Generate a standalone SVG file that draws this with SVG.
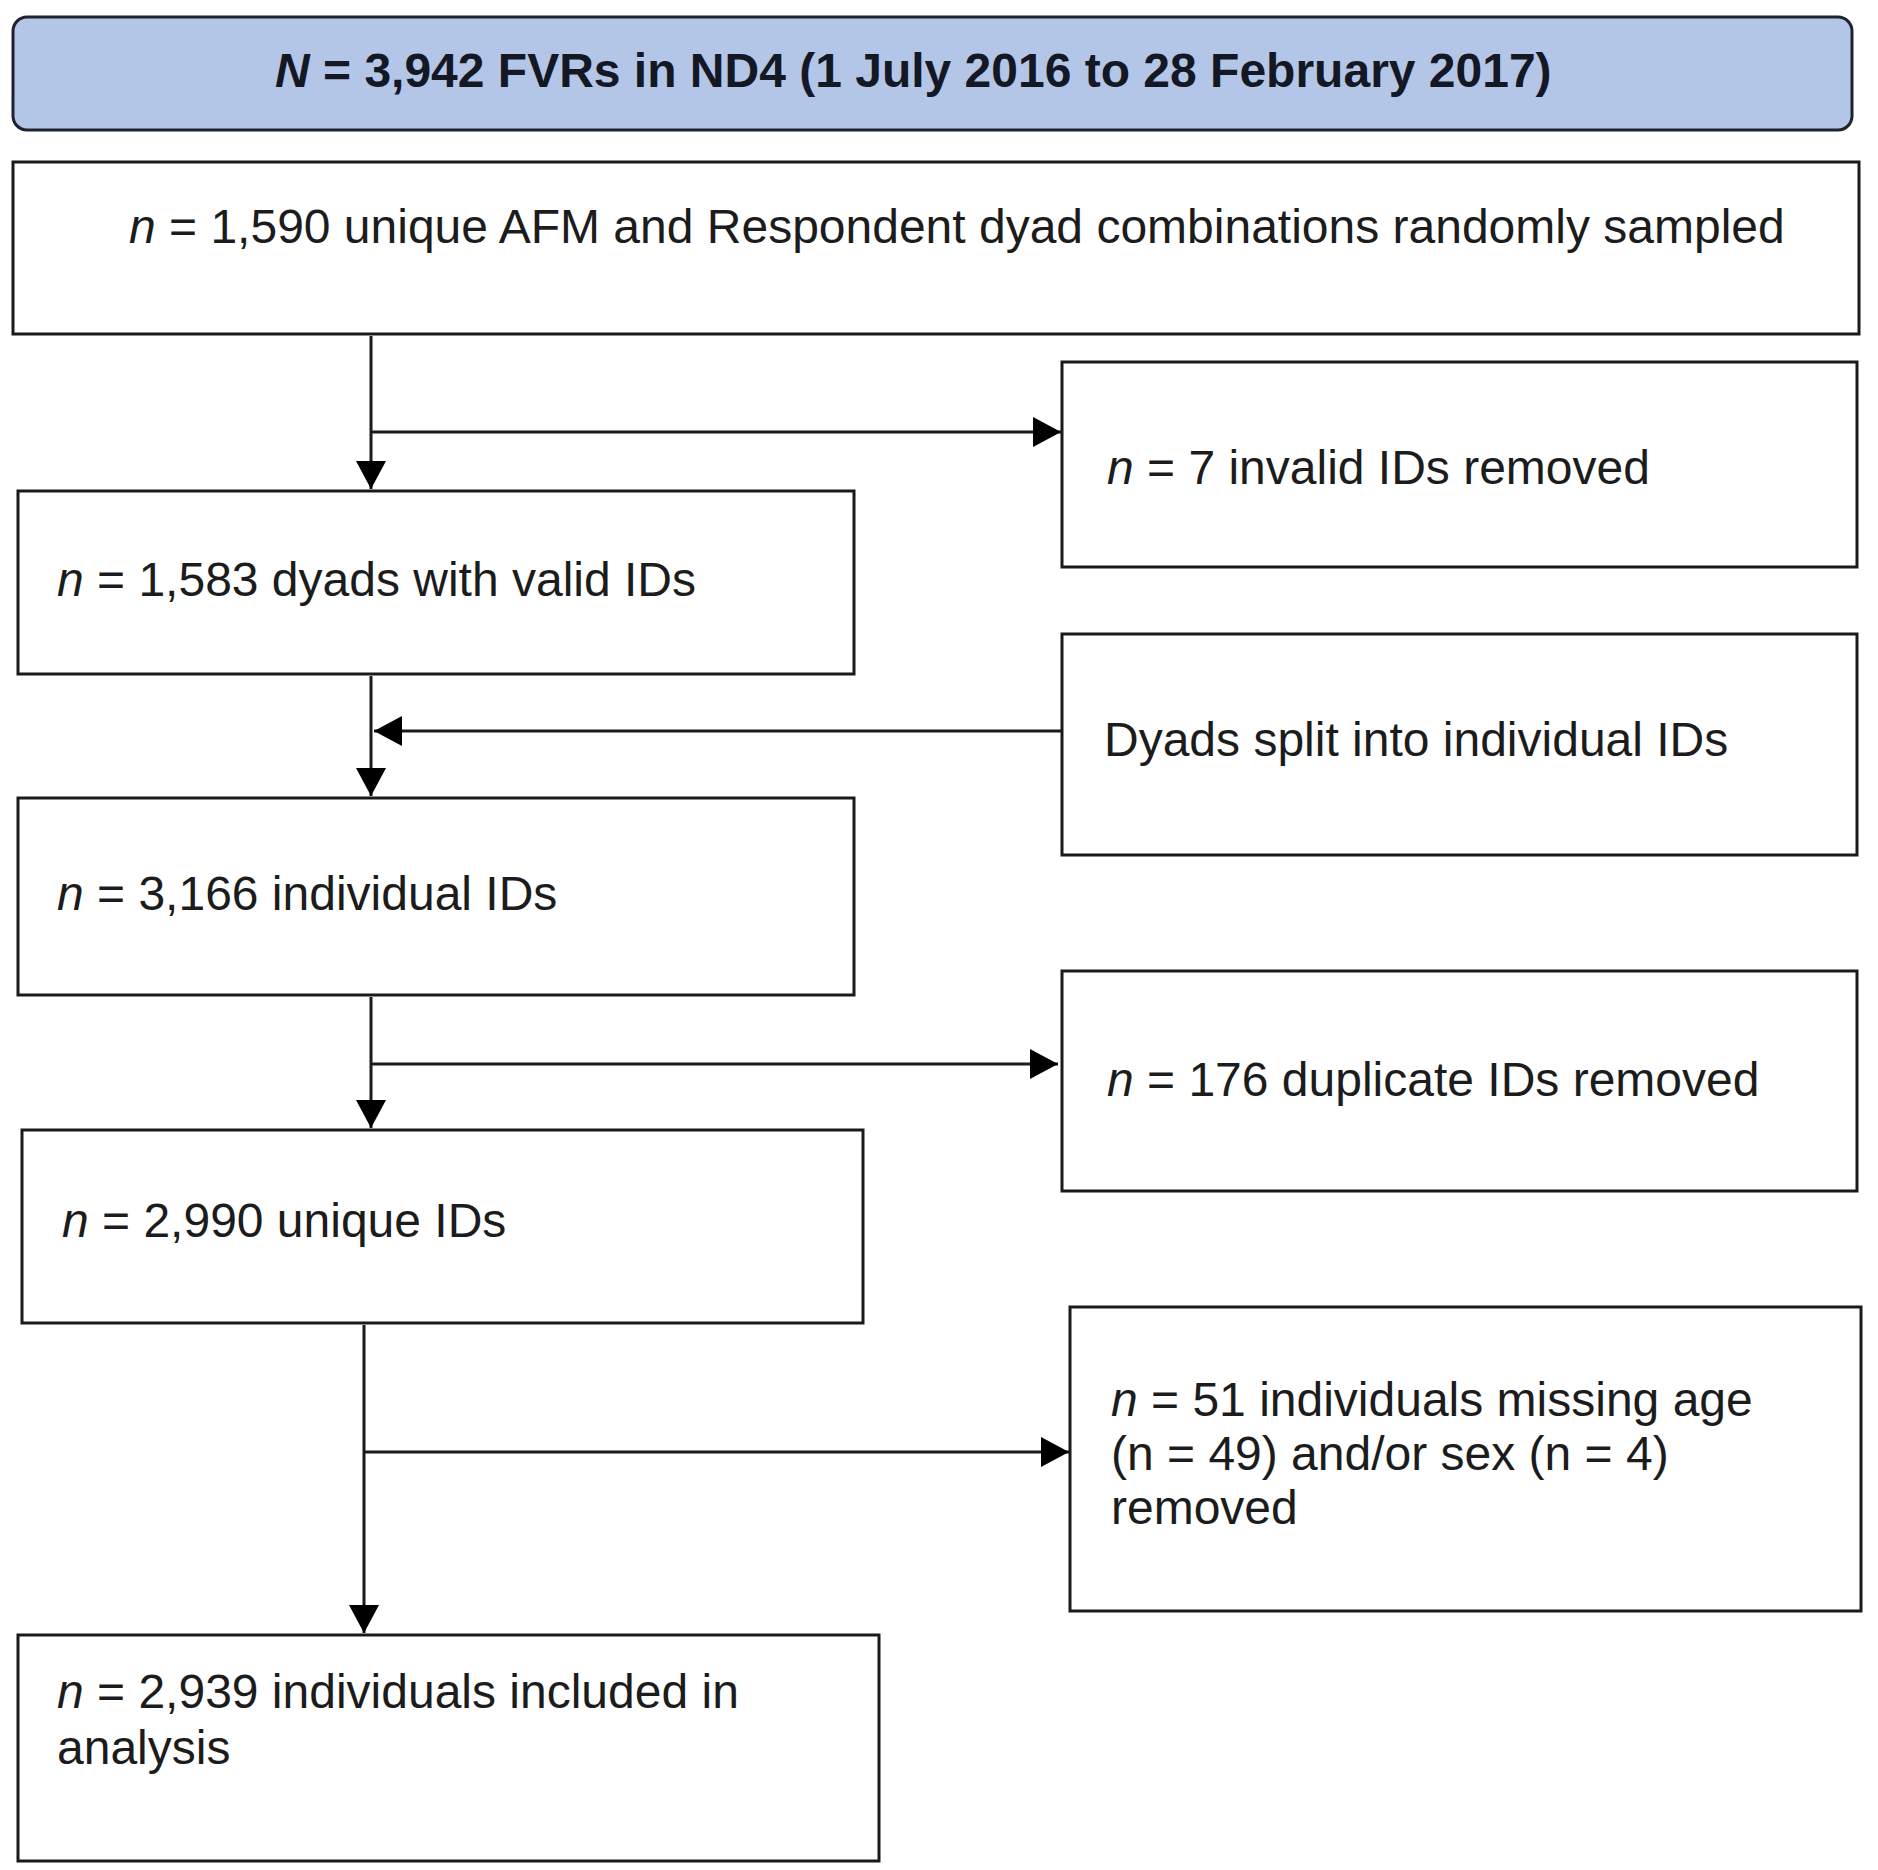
<svg xmlns="http://www.w3.org/2000/svg" width="1878" height="1870" viewBox="0 0 1878 1870">
<style>
.box{fill:#ffffff;stroke:#1a1a1a;stroke-width:3}
.title{fill:#b4c6e7;stroke:#1f2330;stroke-width:3}
.t{font-family:"Liberation Sans",Arial,sans-serif;font-size:48px;fill:#1c1c1c}
.tb{font-family:"Liberation Sans",Arial,sans-serif;font-size:48px;font-weight:bold;fill:#141824}
.i{font-style:italic}
.c{fill:none;stroke:#1a1a1a;stroke-width:3}
</style>
<defs>
<marker id="arr" markerUnits="userSpaceOnUse" markerWidth="30" markerHeight="30" refX="28" refY="15" orient="auto" viewBox="0 0 30 30">
<path d="M0,0 L28,15 L0,30 z" fill="#000"/>
</marker>
</defs>
<rect width="1878" height="1870" fill="#ffffff"/>
<g id="connectors">
<path class="c" d="M371,336 V489" marker-end="url(#arr)"/>
<path class="c" d="M371,432 H1061" marker-end="url(#arr)"/>
<path class="c" d="M371,676 V796" marker-end="url(#arr)"/>
<path class="c" d="M1062,731 H374" marker-end="url(#arr)"/>
<path class="c" d="M371,997 V1128" marker-end="url(#arr)"/>
<path class="c" d="M371,1064 H1058" marker-end="url(#arr)"/>
<path class="c" d="M364,1325 V1633" marker-end="url(#arr)"/>
<path class="c" d="M364,1452 H1069" marker-end="url(#arr)"/>
</g>
<g id="n-total">
<rect class="title" x="13" y="17" width="1839" height="113" rx="14"/>
<text class="tb" x="275" y="87"><tspan class="i">N</tspan> = 3,942 FVRs in ND4 (1 July 2016 to 28 February 2017)</text>
</g>
<g id="n-sampled">
<rect class="box" x="13" y="162" width="1846" height="172"/>
<text class="t" x="129" y="243"><tspan class="i">n</tspan> = 1,590 unique AFM and Respondent dyad combinations randomly sampled</text>
</g>
<g id="n-invalid">
<rect class="box" x="1062" y="362" width="795" height="205"/>
<text class="t" x="1107" y="484"><tspan class="i">n</tspan> = 7 invalid IDs removed</text>
</g>
<g id="n-valid">
<rect class="box" x="18" y="491" width="836" height="183"/>
<text class="t" x="57" y="596"><tspan class="i">n</tspan> = 1,583 dyads with valid IDs</text>
</g>
<g id="split">
<rect class="box" x="1062" y="634" width="795" height="221"/>
<text class="t" x="1104" y="756">Dyads split into individual IDs</text>
</g>
<g id="n-individual">
<rect class="box" x="18" y="798" width="836" height="197"/>
<text class="t" x="57" y="910"><tspan class="i">n</tspan> = 3,166 individual IDs</text>
</g>
<g id="n-duplicate">
<rect class="box" x="1062" y="971" width="795" height="220"/>
<text class="t" x="1107" y="1096"><tspan class="i">n</tspan> = 176 duplicate IDs removed</text>
</g>
<g id="n-unique">
<rect class="box" x="22" y="1130" width="841" height="193"/>
<text class="t" x="62" y="1237"><tspan class="i">n</tspan> = 2,990 unique IDs</text>
</g>
<g id="n-missing">
<rect class="box" x="1070" y="1307" width="791" height="304"/>
<text class="t" x="1111" y="1416"><tspan class="i">n</tspan> = 51 individuals missing age</text>
<text class="t" x="1111" y="1470">(n = 49) and/or sex (n = 4)</text>
<text class="t" x="1111" y="1524">removed</text>
</g>
<g id="n-included">
<rect class="box" x="18" y="1635" width="861" height="226"/>
<text class="t" x="57" y="1708"><tspan class="i">n</tspan> = 2,939 individuals included in</text>
<text class="t" x="57" y="1764">analysis</text>
</g>
</svg>
